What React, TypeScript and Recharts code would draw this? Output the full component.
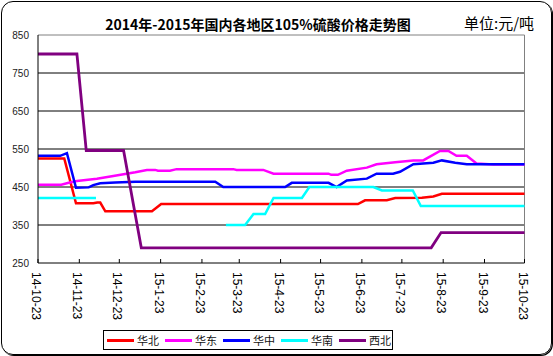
import { LineChart, Line, XAxis, YAxis, ReferenceLine } from "recharts"

// day offsets from 2014-10-23 and prices (元/吨) at each corner of the lines
const huabeiDays = [0, 19.7, 28.5, 41.5, 44.5, 46.7, 50.5, 85.5, 92.4, 240, 245.4, 261.7, 268, 288, 296.6, 303, 365]
const huabeiPrices = [525, 525, 407, 407, 409, 409, 386, 386, 405, 405, 415, 415, 421, 422, 425, 432, 432]

const huadongDays = [0, 17.5, 23, 29.2, 44.2, 56.5, 73, 81.7, 88, 90, 99, 104, 146.5, 149, 169, 176.7, 218, 220, 225, 231.7, 246.7, 254, 268, 281.6, 289, 301.6, 307.9, 314, 321.7, 329, 341.6, 365]
const huadongPrices = [456, 456, 461, 466, 472, 479, 489, 495, 495, 493, 493, 497, 497, 495, 495, 485, 485, 482, 482, 493, 501, 510, 515, 520, 520, 545, 545, 532, 532, 512, 509, 509]

const huazhongDays = [0, 16.7, 21.7, 28.5, 38, 41.5, 46.7, 58, 73, 133, 139, 185.4, 190.4, 218, 224, 231.7, 246.7, 254, 266.4, 271.6, 281.6, 296.6, 303, 313, 321.7, 365]
const huazhongPrices = [532, 532, 539, 448, 449, 455, 460, 462, 464, 464, 450, 450, 461, 461, 450, 467, 472, 485, 485, 490, 510, 514, 520, 514, 510, 510]

// null = no quote, line is broken there
const huananDays = [0, 43.5, 92, 141, 155.4, 161.7, 170.4, 176.7, 198, 203.6, 251.6, 258, 281.2, 287.2, 365]
const huananPrices = [421, 421, null, 350, 350, 379, 379, 421, 421, 450, 450, 441, 441, 400, 400]

const xibeiDays = [0, 29.2, 36.2, 64.2, 77.5, 295, 302.4, 365]
const xibeiPrices = [800, 800, 546, 546, 290, 290, 330, 330]

const xTickDays = [0, 31, 61, 92, 123, 151, 182, 212, 243, 273, 304, 335, 365]
const xTickLabels = ["14-10-23", "14-11-23", "14-12-23", "15-1-23", "15-2-23", "15-3-23", "15-4-23", "15-5-23", "15-6-23", "15-7-23", "15-8-23", "15-9-23", "15-10-23"]
const yTicks = [250, 350, 450, 550, 650, 750, 850]
const gridValues = [350, 450, 550, 650, 750]

const toRows = (days: number[], prices: (number | null)[]) =>
  days.map((d, i) => ({ day: d, price: prices[i] }))

const series = [
  { name: "华北", color: "#FF0000", data: toRows(huabeiDays, huabeiPrices), width: 2.5 },
  { name: "华东", color: "#FF00FF", data: toRows(huadongDays, huadongPrices), width: 2.5 },
  { name: "华中", color: "#0000FF", data: toRows(huazhongDays, huazhongPrices), width: 2.5 },
  { name: "华南", color: "#00FFFF", data: toRows(huananDays, huananPrices), width: 2.5 },
  { name: "西北", color: "#800080", data: toRows(xibeiDays, xibeiPrices), width: 2.8 },
]

const numFont = "'Liberation Sans', Arial, sans-serif"
const cjkFont = "'Noto Sans CJK SC', sans-serif"

const XTick = (props: any) => {
  const { x, y, payload } = props
  const idx = xTickDays.indexOf(payload.value)
  return (
    <g>
      <line x1={x} x2={x} y1={y - 4} y2={y} stroke="#000" />
      <text
        transform={`translate(${x - 2},${y + 9}) rotate(90)`}
        textAnchor="start"
        dominantBaseline="central"
        fontSize={12}
        fontFamily={numFont}
        fill="#000"
      >
        {xTickLabels[idx]}
      </text>
    </g>
  )
}

export default function App() {
  return (
    <div style={{ position: "absolute", left: 0, top: 0, width: 553, height: 356, background: "#fff" }}>
      <div
        style={{
          position: "absolute",
          left: 0.5,
          top: 0.5,
          width: 551,
          height: 354,
          border: "1px solid #000",
          borderRadius: 12,
          boxShadow: "1px 1px 0 #000",
          boxSizing: "border-box",
        }}
      />
      <div
        style={{
          position: "absolute",
          left: 58,
          top: 14,
          width: 400,
          textAlign: "center",
          fontFamily: cjkFont,
          fontWeight: "bold",
          fontSize: 14,
          lineHeight: "20px",
        }}
      >
        2014年-2015年国内各地区105%硫酸价格走势图
      </div>
      <div
        style={{
          position: "absolute",
          left: 464,
          top: 13,
          fontFamily: cjkFont,
          fontSize: 15,
          lineHeight: "20px",
        }}
      >
        单位:元/吨
      </div>

      <LineChart width={553} height={356} margin={{ top: 35, right: 28.5, bottom: 0, left: 0 }}>
        <XAxis
          dataKey="day"
          type="number"
          domain={[0, 365]}
          ticks={xTickDays}
          interval={0}
          height={93}
          tickSize={0}
          tickMargin={0}
          tickLine={false}
          axisLine={{ stroke: "#000" }}
          tick={<XTick />}
          allowDuplicatedCategory={false}
        />
        <YAxis
          type="number"
          domain={[250, 850]}
          ticks={yTicks}
          width={38}
          tickSize={0}
          tickMargin={9}
          tickLine={false}
          axisLine={{ stroke: "#000" }}
          tick={{ fontSize: 10, fill: "#222", fontFamily: numFont }}
        />
        {gridValues.map((v) => (
          <ReferenceLine key={v} y={v} stroke="#000" />
        ))}
        <ReferenceLine y={850} stroke="#808080" />
        <ReferenceLine x={365} stroke="#808080" />
        {series.map((s) => (
          <Line
            key={s.name}
            data={s.data}
            dataKey="price"
            name={s.name}
            type="linear"
            stroke={s.color}
            strokeWidth={s.width}
            dot={false}
            activeDot={false}
            isAnimationActive={false}
          />
        ))}
      </LineChart>

      <div
        style={{
          position: "absolute",
          left: 103,
          top: 330,
          width: 290,
          height: 20,
          border: "1px solid #000",
          boxSizing: "border-box",
        }}
      >
        {series.map((s, i) => (
          <div key={s.name} style={{ position: "absolute", left: 3 + i * 58, top: 0, height: 18 }}>
            <div style={{ position: "absolute", left: 0, top: 7.5, width: 27, height: 3, background: s.color }} />
            <div
              style={{
                position: "absolute",
                left: 30,
                top: 0,
                fontFamily: cjkFont,
                fontSize: 11,
                lineHeight: "18px",
                whiteSpace: "nowrap",
                color: "#111",
              }}
            >
              {s.name}
            </div>
          </div>
        ))}
      </div>
    </div>
  )
}
